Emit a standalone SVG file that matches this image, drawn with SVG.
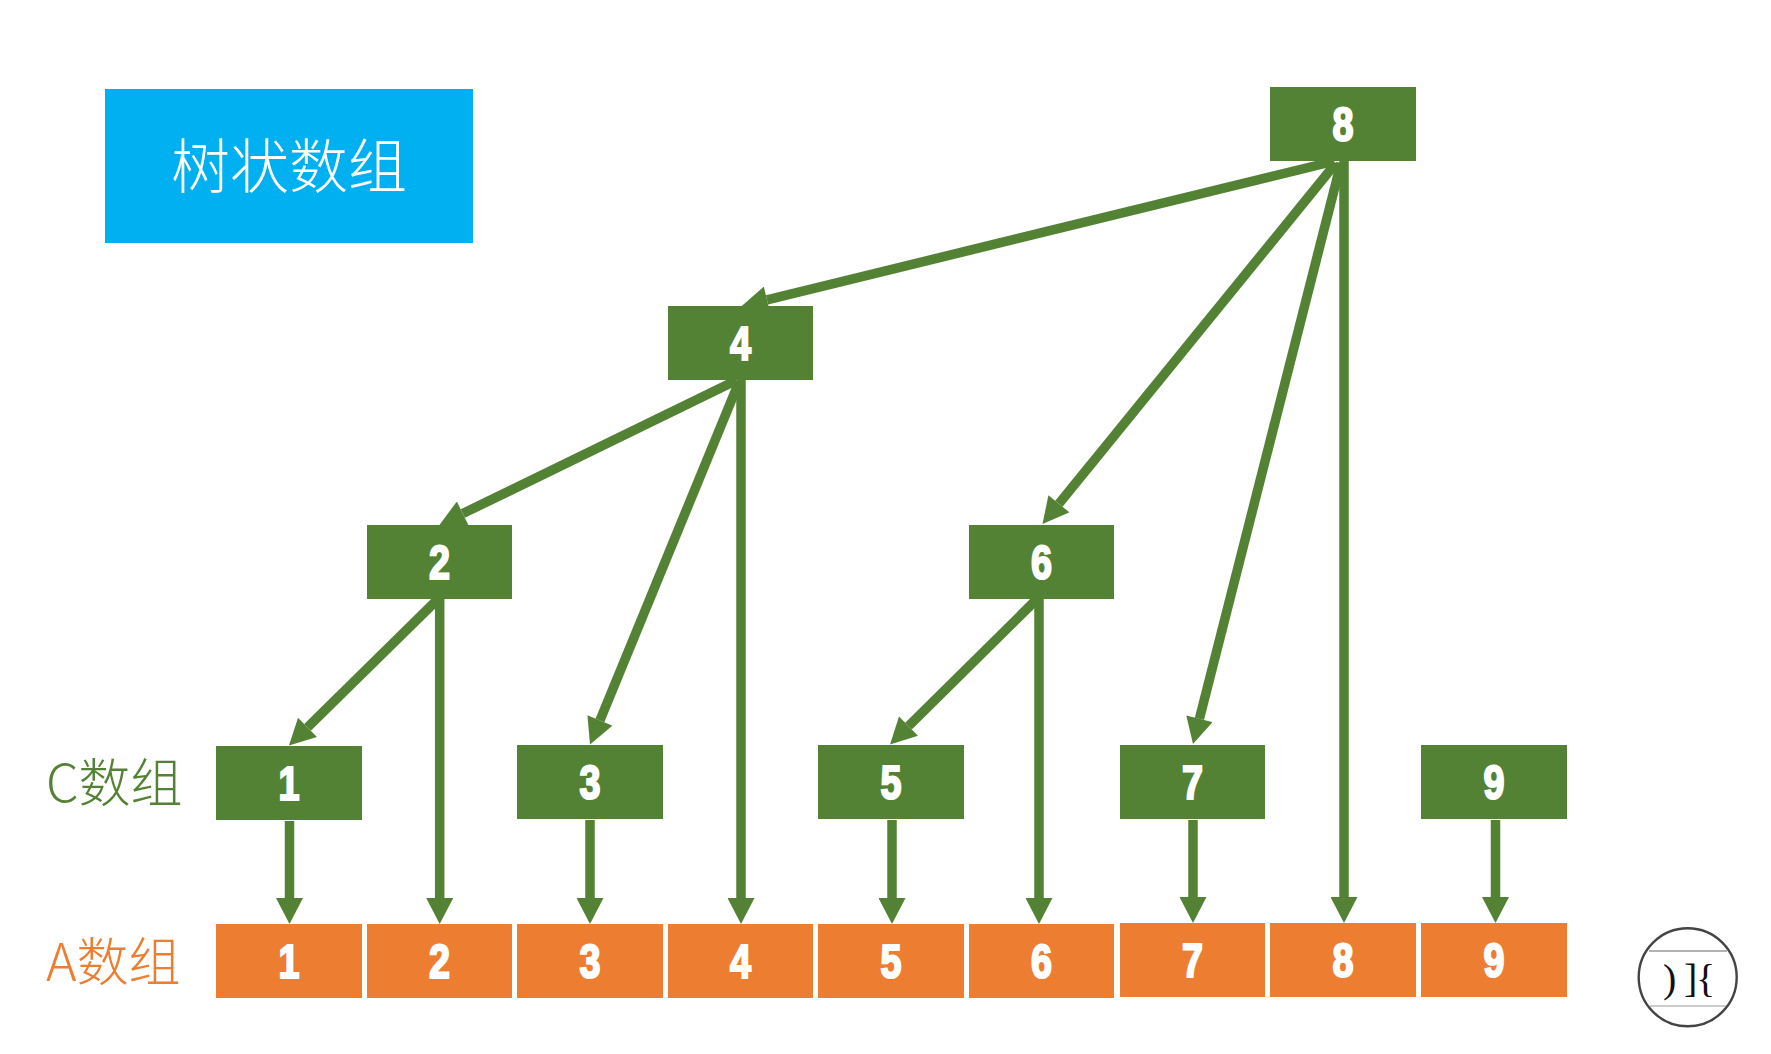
<svg xmlns="http://www.w3.org/2000/svg" width="1771" height="1054" viewBox="0 0 1771 1054">
<style>
.g{fill:#548235}.o{fill:#ED7D31}
.n{font-family:"Liberation Sans",sans-serif;font-weight:700;font-size:49px;fill:#fff;stroke:#fff;stroke-width:2.2px;text-anchor:middle}
.c{font-family:"Noto Sans CJK SC",sans-serif;font-weight:300}
.l{fill:none;stroke:#548235;stroke-width:9.5;marker-end:url(#a)}
</style>
<defs><marker id="a" markerUnits="userSpaceOnUse" markerWidth="27" markerHeight="27" viewBox="0 0 26 27" refX="0" refY="13.5" orient="auto"><path d="M0 0L26 13.5L0 27Z" fill="#548235"/></marker></defs>
<rect width="1771" height="1054" fill="#fff"/>
<g id="title"><rect x="105" y="89" width="368" height="154" fill="#00B0F0"/><text class="c" x="289" y="188" font-size="59" fill="#fff" text-anchor="middle">树状数组</text></g>
<g id="label-c"><text class="c" x="46" y="802" font-size="52" fill="#548235">C数组</text></g>
<g id="label-a"><text class="c" x="46" y="981" font-size="52" fill="#ED7D31">A数组</text></g>
<g id="c8"><rect class="g" x="1270" y="87" width="146" height="74"/><text class="n" x="1343" y="141" textLength="21" lengthAdjust="spacingAndGlyphs">8</text></g>
<g id="c4"><rect class="g" x="668" y="306" width="145" height="74"/><text class="n" x="740.5" y="360" textLength="21" lengthAdjust="spacingAndGlyphs">4</text></g>
<g id="c2"><rect class="g" x="367" y="525" width="145" height="74"/><text class="n" x="439.5" y="579" textLength="21" lengthAdjust="spacingAndGlyphs">2</text></g>
<g id="c6"><rect class="g" x="969" y="525" width="145" height="74"/><text class="n" x="1041.5" y="579" textLength="21" lengthAdjust="spacingAndGlyphs">6</text></g>
<g id="c1"><rect class="g" x="216" y="746" width="146" height="74"/><text class="n" x="289" y="800" textLength="21" lengthAdjust="spacingAndGlyphs">1</text></g>
<g id="c3"><rect class="g" x="517" y="745" width="146" height="74"/><text class="n" x="590" y="799" textLength="21" lengthAdjust="spacingAndGlyphs">3</text></g>
<g id="c5"><rect class="g" x="818" y="745" width="146" height="74"/><text class="n" x="891" y="799" textLength="21" lengthAdjust="spacingAndGlyphs">5</text></g>
<g id="c7"><rect class="g" x="1120" y="745" width="145" height="74"/><text class="n" x="1192.5" y="799" textLength="21" lengthAdjust="spacingAndGlyphs">7</text></g>
<g id="c9"><rect class="g" x="1421" y="745" width="146" height="74"/><text class="n" x="1494" y="799" textLength="21" lengthAdjust="spacingAndGlyphs">9</text></g>
<g id="a1"><rect class="o" x="216" y="924" width="146" height="74"/><text class="n" x="289" y="978" textLength="21" lengthAdjust="spacingAndGlyphs">1</text></g>
<g id="a2"><rect class="o" x="367" y="924" width="145" height="74"/><text class="n" x="439.5" y="978" textLength="21" lengthAdjust="spacingAndGlyphs">2</text></g>
<g id="a3"><rect class="o" x="517" y="924" width="146" height="74"/><text class="n" x="590" y="978" textLength="21" lengthAdjust="spacingAndGlyphs">3</text></g>
<g id="a4"><rect class="o" x="668" y="924" width="145" height="74"/><text class="n" x="740.5" y="978" textLength="21" lengthAdjust="spacingAndGlyphs">4</text></g>
<g id="a5"><rect class="o" x="818" y="924" width="146" height="74"/><text class="n" x="891" y="978" textLength="21" lengthAdjust="spacingAndGlyphs">5</text></g>
<g id="a6"><rect class="o" x="969" y="924" width="145" height="74"/><text class="n" x="1041.5" y="978" textLength="21" lengthAdjust="spacingAndGlyphs">6</text></g>
<g id="a7"><rect class="o" x="1120" y="923" width="145" height="74"/><text class="n" x="1192.5" y="977" textLength="21" lengthAdjust="spacingAndGlyphs">7</text></g>
<g id="a8"><rect class="o" x="1270" y="923" width="146" height="74"/><text class="n" x="1343" y="977" textLength="21" lengthAdjust="spacingAndGlyphs">8</text></g>
<g id="a9"><rect class="o" x="1421" y="923" width="146" height="74"/><text class="n" x="1494" y="977" textLength="21" lengthAdjust="spacingAndGlyphs">9</text></g>
<g id="connectors">
<path class="l" d="M1333 161.5L767 299.8"/>
<path class="l" d="M1336 163L1058.9 503.8"/>
<path class="l" d="M1341 163L1199.4 718.8"/>
<path class="l" d="M1344 161V897"/>
<path class="l" d="M736 380.6L462.8 513.6"/>
<path class="l" d="M739 382L599.9 720.5"/>
<path class="l" d="M741 380V898"/>
<path class="l" d="M437 600L307.5 727.3"/>
<path class="l" d="M439.7 599V898"/>
<path class="l" d="M1036 600L908.5 726.2"/>
<path class="l" d="M1039 599V898"/>
<path class="l" d="M289.5 821V898"/>
<path class="l" d="M590 820V898"/>
<path class="l" d="M892 820V898"/>
<path class="l" d="M1193 820V897"/>
<path class="l" d="M1495.5 820V897"/>
</g>
<g id="logo"><circle cx="1687.7" cy="977.3" r="49" fill="none" stroke="#444" stroke-width="2.4"/><path d="M1649 951H1727" stroke="#666" stroke-width="1.2"/><path d="M1650 1006H1726" stroke="#999" stroke-width="1.2"/>
<text font-family="Liberation Serif,serif" font-size="40" fill="#111" y="992"><tspan x="1663">)</tspan><tspan x="1684">]</tspan><tspan x="1696">{</tspan></text></g>
</svg>
